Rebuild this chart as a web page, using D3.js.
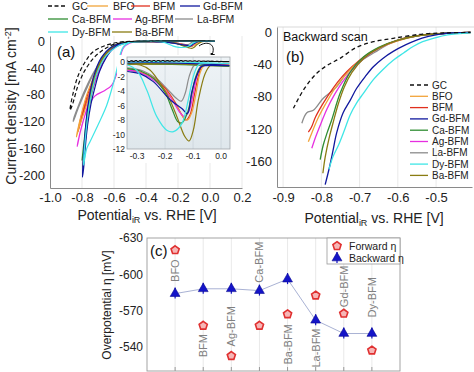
<!DOCTYPE html>
<html><head><meta charset="utf-8">
<script src="https://cdn.jsdelivr.net/npm/d3@7"></script>
<style>body{margin:0;background:#fff}svg{display:block;font-family:Arial,"Liberation Sans",sans-serif}</style>
</head><body><svg id="c" width="474" height="372"></svg>
<script>
// ---------------- DATA ----------------
const materials = ["GC","BFO","BFM","Gd-BFM","Ca-BFM","Ag-BFM","La-BFM","Dy-BFM","Ba-BFM"];

// (a) inset: reduction peak region, forward sweep [V, mA cm-2]
const insetGC  = [[0.03,0.05],[-0.335,0.05]];
const insetBFO = [[0.03,-0.5],[-0.06,-0.5],[-0.075,-1.5],[-0.09,-4.5],[-0.105,-7],[-0.12,-8],[-0.135,-7.6],[-0.16,-6],[-0.2,-3.8],[-0.25,-2],[-0.3,-1.2],[-0.335,-1.0]];
const insetBFM = [[0.03,-0.5],[-0.065,-0.5],[-0.08,-1.8],[-0.095,-4.5],[-0.11,-7.2],[-0.125,-8],[-0.14,-7.3],[-0.165,-5.5],[-0.2,-3.6],[-0.25,-2],[-0.3,-1.3],[-0.335,-1.1]];
const insetGd  = [[0.03,-0.5],[-0.06,-0.5],[-0.07,-0.6],[-0.088,-2.0],[-0.105,-4.2],[-0.12,-7.1],[-0.14,-6.4],[-0.182,-5.2],[-0.242,-2.7],[-0.29,-1.6],[-0.335,-1.3]];
const insetCa  = [[0.03,-0.6],[-0.07,-0.6],[-0.09,-2],[-0.105,-4.5],[-0.12,-7],[-0.14,-8.4],[-0.155,-8.2],[-0.175,-6.5],[-0.2,-4.2],[-0.24,-2.3],[-0.29,-1.2],[-0.335,-0.9]];
const insetAg  = [[0.03,-0.5],[-0.07,-0.5],[-0.085,-1.8],[-0.1,-4.5],[-0.115,-6.8],[-0.13,-7.5],[-0.15,-6.8],[-0.175,-5.2],[-0.21,-3.5],[-0.26,-2],[-0.3,-1.3],[-0.335,-1.1]];
const insetLa  = [[0.03,-0.4],[-0.09,-0.4],[-0.099,-0.6],[-0.114,-2.0],[-0.128,-4.3],[-0.142,-5.4],[-0.16,-5],[-0.19,-3.8],[-0.23,-2.3],[-0.28,-1.2],[-0.335,-0.8]];
const insetDy  = [[0.03,-0.2],[-0.06,-0.2],[-0.081,-0.4],[-0.099,-2.0],[-0.117,-5.2],[-0.14,-8.5],[-0.17,-9.6],[-0.194,-9.4],[-0.23,-7.5],[-0.265,-3.9],[-0.3,-1.2],[-0.335,-0.4]];
const insetBa  = [[0.03,-0.5],[-0.03,-0.5],[-0.039,-0.5],[-0.057,-1.6],[-0.081,-5.2],[-0.099,-9.4],[-0.114,-10.9],[-0.129,-10.3],[-0.158,-7.5],[-0.188,-4.8],[-0.218,-2.9],[-0.254,-1.1],[-0.289,-0.4],[-0.335,-0.3]];

// (a) HER loops: forward to the vertex, then back, then to start [V, mA cm-2]
const loopGC  = [[-0.4,-0.3],[-0.54,-1],[-0.646,-6],[-0.73,-16],[-0.78,-31],[-0.823,-51],[-0.854,-76],[-0.875,-103],[-0.86,-95],[-0.83,-70],[-0.8,-52],[-0.78,-43],[-0.73,-26],[-0.667,-13],[-0.6,-5],[-0.5,-1],[-0.4,0],[0.03,0.05]];
const loopBFO = [[-0.4,-0.8],[-0.52,-2.5],[-0.61,-12],[-0.68,-35],[-0.735,-68],[-0.785,-105],[-0.82,-130],[-0.835,-143],[-0.83,-136],[-0.805,-110],[-0.77,-80],[-0.73,-55],[-0.69,-33],[-0.64,-15],[-0.58,-5],[-0.5,-1.5],[-0.45,-0.6],[0.03,-0.5]];
const loopBFM = [[-0.4,-0.8],[-0.52,-2.5],[-0.61,-12],[-0.685,-38],[-0.74,-70],[-0.79,-105],[-0.825,-135],[-0.82,-128],[-0.8,-108],[-0.765,-80],[-0.725,-55],[-0.685,-33],[-0.635,-15],[-0.575,-5],[-0.5,-1.5],[-0.45,-0.6],[0.03,-0.5]];
const loopGd  = [[-0.4,-0.8],[-0.52,-2],[-0.61,-8],[-0.68,-25],[-0.73,-55],[-0.765,-100],[-0.785,-150],[-0.797,-203],[-0.79,-190],[-0.78,-160],[-0.765,-125],[-0.745,-95],[-0.72,-70],[-0.69,-45],[-0.65,-25],[-0.6,-10],[-0.54,-3],[-0.45,-0.6],[0.03,-0.5]];
const loopCa  = [[-0.4,-0.8],[-0.52,-2],[-0.61,-9],[-0.68,-30],[-0.73,-62],[-0.765,-105],[-0.785,-145],[-0.8,-178],[-0.795,-168],[-0.78,-135],[-0.76,-100],[-0.735,-68],[-0.705,-42],[-0.665,-22],[-0.61,-8],[-0.53,-2],[-0.45,-0.6],[0.03,-0.6]];
const loopAg  = [[-0.4,-0.8],[-0.52,-2.5],[-0.61,-12],[-0.68,-38],[-0.73,-70],[-0.775,-105],[-0.81,-135],[-0.83,-157],[-0.825,-150],[-0.8,-125],[-0.765,-100],[-0.72,-82],[-0.66,-74],[-0.615,-66],[-0.585,-50],[-0.565,-28],[-0.54,-10],[-0.5,-3],[-0.45,-0.6],[0.03,-0.5]];
const loopLa  = [[-0.4,-0.8],[-0.52,-2],[-0.61,-10],[-0.69,-32],[-0.76,-65],[-0.82,-98],[-0.855,-120],[-0.85,-114],[-0.82,-95],[-0.78,-72],[-0.735,-50],[-0.69,-32],[-0.64,-15],[-0.58,-5],[-0.5,-1.5],[-0.45,-0.6],[0.03,-0.4]];
const loopDy  = [[-0.4,-0.8],[-0.5,-2],[-0.58,-8],[-0.65,-22],[-0.71,-50],[-0.75,-90],[-0.775,-135],[-0.79,-185],[-0.785,-178],[-0.77,-160],[-0.75,-150],[-0.7,-125],[-0.646,-96],[-0.604,-63],[-0.58,-40],[-0.5625,-21],[-0.54,-8],[-0.5,-2],[-0.45,-0.5],[0.03,-0.2]];
const loopBa  = [[-0.4,-0.8],[-0.52,-2],[-0.61,-9],[-0.68,-28],[-0.73,-60],[-0.76,-100],[-0.78,-145],[-0.795,-188],[-0.79,-178],[-0.775,-140],[-0.755,-100],[-0.73,-68],[-0.7,-42],[-0.66,-22],[-0.6,-7],[-0.53,-2],[-0.45,-0.6],[0.03,-0.5]];

// (b) backward scans [V, mA cm-2]
const bwdGC  = [[-0.873,-94.5],[-0.847,-72],[-0.812,-51],[-0.78,-40],[-0.751,-32.6],[-0.708,-19],[-0.664,-12],[-0.612,-7.8],[-0.535,-2.5],[-0.47,-1],[-0.41,-0.5]];
const bwdLa  = [[-0.851,-113],[-0.838,-100],[-0.821,-97],[-0.795,-82],[-0.76,-68],[-0.734,-51],[-0.7,-37],[-0.66,-25],[-0.62,-14],[-0.577,-7],[-0.52,-3],[-0.41,-0.5]];
const bwdBFM = [[-0.834,-124],[-0.826,-118],[-0.815,-105],[-0.795,-88],[-0.77,-70],[-0.745,-55],[-0.72,-43],[-0.68,-28],[-0.638,-17],[-0.577,-7.5],[-0.52,-3],[-0.41,-0.5]];
const bwdBFO = [[-0.834,-136],[-0.825,-125],[-0.81,-108],[-0.79,-90],[-0.765,-70],[-0.74,-55],[-0.71,-40],[-0.68,-29],[-0.638,-17.5],[-0.577,-7.8],[-0.52,-3],[-0.41,-0.6]];
const bwdAg  = [[-0.825,-144],[-0.815,-130],[-0.8,-112],[-0.785,-95],[-0.765,-77],[-0.745,-62],[-0.72,-47],[-0.69,-33],[-0.65,-20],[-0.6,-10],[-0.54,-4],[-0.41,-0.6]];
const bwdCa  = [[-0.803,-158],[-0.795,-140],[-0.785,-125],[-0.773,-109],[-0.751,-76],[-0.725,-50],[-0.69,-31],[-0.65,-19],[-0.6,-10],[-0.54,-4],[-0.41,-0.6]];
const bwdBa  = [[-0.796,-175],[-0.79,-155],[-0.78,-132],[-0.768,-110],[-0.755,-88],[-0.74,-68],[-0.72,-50],[-0.69,-33],[-0.65,-20],[-0.6,-10],[-0.54,-4],[-0.41,-0.6]];
const bwdGd  = [[-0.79,-189],[-0.78,-170],[-0.77,-148],[-0.76,-125],[-0.743,-100],[-0.725,-85],[-0.708,-70],[-0.685,-55],[-0.664,-43],[-0.64,-33],[-0.612,-24],[-0.58,-16],[-0.551,-10],[-0.52,-5.5],[-0.49,-2.5],[-0.44,-0.8],[-0.41,-0.4]];
const bwdDy  = [[-0.78,-170],[-0.77,-155],[-0.755,-140],[-0.74,-122],[-0.725,-103],[-0.708,-88],[-0.69,-76],[-0.664,-59],[-0.64,-47],[-0.612,-35],[-0.585,-26],[-0.56,-18],[-0.535,-12],[-0.507,-7.8],[-0.47,-3.5],[-0.41,-1]];

// (c) overpotentials [mV]
const catsC = ["BFO","BFM","Ag-BFM","Ca-BFM","Ba-BFM","La-BFM","Gd-BFM","Dy-BFM"];
const forwardEta  = [-620,-557.5,-532.5,-557.5,-567,-582.5,-567.5,-537];
const backwardEta = [-584,-588,-588,-586.5,-596,-562,-551,-551];
const labelEta    = [-603,-541,-557,-610,-542,-539,-590,-581];

// ticks
const aXTicks = [-1.0,-0.8,-0.6,-0.4,-0.2,0.0,0.2];
const aYTicks = [0,-40,-80,-120,-160,-200];
const iXTicks = [-0.3,-0.2,-0.1,0.0];
const iYTicks = [0,-2,-4,-6,-8,-10,-12];
const bXTicks = [-0.9,-0.8,-0.7,-0.6,-0.5];
const bYTicks = [0,-40,-80,-120,-160];
const cYTicks = [-630,-600,-570,-540];

// ---------------- STYLE ----------------
const color = {"GC":"#111","BFO":"#f2a43a","BFM":"#e0301e","Gd-BFM":"#10189e","Ca-BFM":"#2f8d32","Ag-BFM":"#e62fe0","La-BFM":"#8c8c8c","Dy-BFM":"#3fe6e6","Ba-BFM":"#8a7c12"};
const insetData = {"GC":insetGC,"BFO":insetBFO,"BFM":insetBFM,"Gd-BFM":insetGd,"Ca-BFM":insetCa,"Ag-BFM":insetAg,"La-BFM":insetLa,"Dy-BFM":insetDy,"Ba-BFM":insetBa};
const loopData = {"GC":loopGC,"BFO":loopBFO,"BFM":loopBFM,"Gd-BFM":loopGd,"Ca-BFM":loopCa,"Ag-BFM":loopAg,"La-BFM":loopLa,"Dy-BFM":loopDy,"Ba-BFM":loopBa};
const bwdData = {"GC":bwdGC,"BFO":bwdBFO,"BFM":bwdBFM,"Gd-BFM":bwdGd,"Ca-BFM":bwdCa,"Ag-BFM":bwdAg,"La-BFM":bwdLa,"Dy-BFM":bwdDy,"Ba-BFM":bwdBa};
const drawOrder = ["La-BFM","BFM","BFO","Ag-BFM","Ca-BFM","Ba-BFM","Gd-BFM","Dy-BFM","GC"];

const svg = d3.select("#c");
const defs = svg.append("defs");
const mkLine = (x,y)=>d3.line().x(d=>x(d[0])).y(d=>y(d[1])).curve(d3.curveCatmullRom.alpha(0.5));
const gridC = "#e3e3e3", axC = "#8a8a8a";

function clip(id,x,y,w,h){defs.append("clipPath").attr("id",id).append("rect").attr("x",x).attr("y",y).attr("width",w).attr("height",h);}

// ---------------- PANEL A ----------------
const ax = d3.scaleLinear().domain([-1.0,0.2]).range([50,242]);
const ay = d3.scaleLinear().domain([-219,7.5]).range([188,36]);
clip("clipA",50,36,192,152);
const gA = svg.append("g");
gA.append("g").selectAll("line").data(aXTicks.slice(1)).join("line")
  .attr("x1",d=>ax(d)).attr("x2",d=>ax(d)).attr("y1",36).attr("y2",188).attr("stroke",gridC).attr("stroke-width",0.8);
const lineA = mkLine(ax,ay);
const gAc = gA.append("g").attr("clip-path","url(#clipA)");
drawOrder.forEach(m=>{
  gAc.append("path").attr("d",lineA(insetData[m].concat(loopData[m]))).attr("fill","none")
    .attr("stroke",color[m]).attr("stroke-width",1.2).attr("stroke-dasharray",m==="GC"?"4,2.5":null);
});
gA.append("g").attr("transform","translate(0,188)")
  .call(d3.axisBottom(ax).tickValues(aXTicks).tickFormat(d=>d.toFixed(1)).tickSize(0).tickPadding(5))
  .call(g=>{g.select(".domain").attr("stroke",axC);g.selectAll("text").attr("font-size",13).attr("fill","#222").attr("font-family","Arial, Liberation Sans");});
gA.append("g").attr("transform","translate(50,0)")
  .call(d3.axisLeft(ay).tickValues(aYTicks).tickFormat(d=>String(d)).tickSize(0).tickPadding(5))
  .call(g=>{g.select(".domain").attr("stroke",axC);g.selectAll("text").attr("font-size",13).attr("fill","#222").attr("font-family","Arial, Liberation Sans");});
gA.append("text").attr("x",57).attr("y",57).attr("font-size",15).attr("fill","#111").text("(a)");

// arrow
defs.append("marker").attr("id","arr").attr("viewBox","0 0 10 10").attr("refX",8).attr("refY",5)
  .attr("markerWidth",5).attr("markerHeight",5).attr("orient","auto")
  .append("path").attr("d","M0,0L10,5L0,10z").attr("fill","#111");
gA.append("path").attr("d","M199,46 C207,40 218,44 211,57").attr("fill","none").attr("stroke","#111").attr("stroke-width",1).attr("marker-end","url(#arr)");

// inset
const ix = d3.scaleLinear().domain([-0.336,0.032]).range([127,230]);
const iy = d3.scaleLinear().domain([-12,0.7]).range([149,57]);
gA.append("rect").attr("x",117).attr("y",55).attr("width",116).attr("height",108).attr("fill","#fff");
const grad = defs.append("linearGradient").attr("id","ig").attr("x1",0).attr("y1",0).attr("x2",0).attr("y2",1);
grad.append("stop").attr("offset","0").attr("stop-color","#eef3f6");
grad.append("stop").attr("offset","1").attr("stop-color","#dfe7ec");
gA.append("rect").attr("x",127).attr("y",57).attr("width",103).attr("height",92).attr("fill","url(#ig)");
gA.append("g").selectAll("line").data(iXTicks.slice(1)).join("line")
  .attr("x1",d=>ix(d)).attr("x2",d=>ix(d)).attr("y1",57).attr("y2",149).attr("stroke","#c9d2d8").attr("stroke-width",0.7);
clip("clipI",127,57,103,92);
const lineI = mkLine(ix,iy);
const gIc = gA.append("g").attr("clip-path","url(#clipI)");
drawOrder.forEach(m=>{
  gIc.append("path").attr("d",lineI(insetData[m].concat(loopData[m]))).attr("fill","none")
    .attr("stroke",color[m]).attr("stroke-width",1.2).attr("stroke-dasharray",m==="GC"?"2.5,2":null);
});
gA.append("rect").attr("x",127).attr("y",57).attr("width",103).attr("height",92).attr("fill","none").attr("stroke","#a0a6aa").attr("stroke-width",0.8);
gA.append("g").selectAll("text").data(iYTicks).join("text")
  .attr("x",125).attr("y",d=>iy(d)+3).attr("text-anchor","end").attr("font-size",8.5).attr("fill","#222").text(d=>String(d));
gA.append("g").selectAll("text").data(iXTicks).join("text")
  .attr("x",d=>ix(d)).attr("y",159).attr("text-anchor","middle").attr("font-size",8.5).attr("fill","#222").text(d=>d.toFixed(1));

// legend a
const legA = [["GC",48,67,72,6],["BFO",87,108,113,6],["BFM",131,150,153,6],["Gd-BFM",180,200,203,6],
              ["Ca-BFM",48,68,72,19],["Ag-BFM",113,132,135,19],["La-BFM",175,193,197,19],
              ["Dy-BFM",48,68,72,32],["Ba-BFM",112,132,135,32]];
const gL = svg.append("g");
legA.forEach(([m,x1,x2,tx,y])=>{
  gL.append("line").attr("x1",x1).attr("x2",x2).attr("y1",y).attr("y2",y).attr("stroke",color[m]).attr("stroke-width",1.3).attr("stroke-dasharray",m==="GC"?"4,2.5":null);
  gL.append("text").attr("x",tx).attr("y",y+4).attr("font-size",10.5).attr("fill","#222").text(m);
});

// axis titles a
const tA = svg.append("text").attr("x",147).attr("y",220).attr("text-anchor","middle").attr("font-size",14).attr("fill","#222");
tA.append("tspan").text("Potential");
tA.append("tspan").attr("font-size",9).attr("dy",3).text("iR");
tA.append("tspan").attr("dy",-3).text(" vs. RHE [V]");
const yA = svg.append("text").attr("transform","translate(16,106) rotate(-90)").attr("text-anchor","middle").attr("font-size",14).attr("fill","#222");
yA.append("tspan").text("Current density [mA cm");
yA.append("tspan").attr("font-size",9).attr("dy",-5).text("-2");
yA.append("tspan").attr("dy",5).text("]");

// ---------------- PANEL B ----------------
const bx = d3.scaleLinear().domain([-0.916,-0.406]).range([277,472]);
const by = d3.scaleLinear().domain([-192,6.2]).range([187,27]);
const gB = svg.append("g");
gB.append("g").selectAll("line").data(bXTicks).join("line")
  .attr("x1",d=>bx(d)).attr("x2",d=>bx(d)).attr("y1",27).attr("y2",187).attr("stroke",gridC).attr("stroke-width",0.8);
gB.append("line").attr("x1",277).attr("x2",474).attr("y1",27).attr("y2",27).attr("stroke","#cfcfcf").attr("stroke-width",0.8);
clip("clipB",277,27,197,160);
const lineB = mkLine(bx,by);
const gBc = gB.append("g").attr("clip-path","url(#clipB)");
drawOrder.forEach(m=>{
  gBc.append("path").attr("d",lineB(bwdData[m])).attr("fill","none")
    .attr("stroke",color[m]).attr("stroke-width",1.3).attr("stroke-dasharray",m==="GC"?"4,3":null);
});
gB.append("g").attr("transform","translate(0,187)")
  .call(d3.axisBottom(bx).tickValues(bXTicks).tickFormat(d=>d.toFixed(1)).tickSize(0).tickPadding(6))
  .call(g=>{g.select(".domain").attr("stroke",axC);g.selectAll("text").attr("font-size",13).attr("fill","#222").attr("font-family","Arial, Liberation Sans");});
gB.append("g").attr("transform","translate(277,0)")
  .call(d3.axisLeft(by).tickValues(bYTicks).tickFormat(d=>String(d)).tickSize(0).tickPadding(5))
  .call(g=>{g.select(".domain").attr("stroke",axC);g.selectAll("text").attr("font-size",13).attr("fill","#222").attr("font-family","Arial, Liberation Sans");});
gB.append("text").attr("x",283).attr("y",41).attr("font-size",12.5).attr("fill","#111").text("Backward scan");
gB.append("text").attr("x",286).attr("y",62).attr("font-size",15).attr("fill","#111").text("(b)");
materials.forEach((m,i)=>{
  const y = 85 + i*11.3;
  gB.append("line").attr("x1",410).attr("x2",428).attr("y1",y).attr("y2",y).attr("stroke",color[m]).attr("stroke-width",1.3).attr("stroke-dasharray",m==="GC"?"4,3":null);
  gB.append("text").attr("x",432).attr("y",y+3.5).attr("font-size",10).attr("fill","#222").text(m);
});
const tB = svg.append("text").attr("x",374).attr("y",223).attr("text-anchor","middle").attr("font-size",14).attr("fill","#222");
tB.append("tspan").text("Potential");
tB.append("tspan").attr("font-size",9).attr("dy",3).text("iR");
tB.append("tspan").attr("dy",-3).text(" vs. RHE [V]");

// ---------------- PANEL C ----------------
const cx = d3.scaleLinear().domain([-1,8]).range([147,400]);
const cy = d3.scaleLinear().domain([-630,-520]).range([238,371]);
const gC = svg.append("g");
gC.append("g").selectAll("line").data(catsC).join("line")
  .attr("x1",(d,i)=>cx(i)).attr("x2",(d,i)=>cx(i)).attr("y1",238).attr("y2",371).attr("stroke",gridC).attr("stroke-width",0.8);
gC.append("rect").attr("x",147).attr("y",238).attr("width",253).attr("height",133).attr("fill","none").attr("stroke","#9a9a9a").attr("stroke-width",0.9);
gC.append("g").selectAll("line").data(catsC).join("line")
  .attr("x1",(d,i)=>cx(i)).attr("x2",(d,i)=>cx(i)).attr("y1",367).attr("y2",371).attr("stroke","#9a9a9a");
gC.append("g").attr("transform","translate(147,0)")
  .call(d3.axisLeft(cy).tickValues(cYTicks).tickFormat(d=>String(d)).tickSize(0).tickPadding(4))
  .call(g=>{g.select(".domain").remove();g.selectAll("text").attr("font-size",12).attr("fill","#222").attr("font-family","Arial, Liberation Sans");});
gC.append("text").attr("transform","translate(111,305) rotate(-90)").attr("text-anchor","middle").attr("font-size",12).attr("fill","#222").text("Overpotential η [mV]");
gC.append("text").attr("x",150).attr("y",256).attr("font-size",15).attr("fill","#111").text("(c)");
// labels
gC.append("g").selectAll("text").data(catsC).join("text")
  .attr("transform",(d,i)=>`translate(${cx(i)+4},${cy(labelEta[i])}) rotate(-90)`)
  .attr("text-anchor","middle").attr("font-size",11).attr("fill","#808080").text(d=>d);
// backward line
gC.append("path").attr("d",d3.line().x((d,i)=>cx(i)).y(d=>cy(d))(backwardEta)).attr("fill","none").attr("stroke","#a9b2d4").attr("stroke-width",1);
function pent(r){const p=[];for(let k=0;k<5;k++){const a=-Math.PI/2+k*2*Math.PI/5;p.push([r*Math.cos(a),r*Math.sin(a)]);}return "M"+p.map(q=>q.join(",")).join("L")+"Z";}
function drawFwd(g,x,y){g.append("path").attr("d",pent(4.3)).attr("transform",`translate(${x},${y})`).attr("fill","#f6b6b6").attr("stroke","#e03030").attr("stroke-width",1.6);}
function drawBwd(g,x,y){
  g.append("line").attr("x1",x).attr("x2",x).attr("y1",y-6).attr("y2",y+5).attr("stroke","#1414c8").attr("stroke-width",1.2);
  g.append("path").attr("d",d3.symbol(d3.symbolTriangle).size(42)()).attr("transform",`translate(${x},${y})`).attr("fill","#1414c8").attr("stroke","#0a0a90").attr("stroke-width",0.6);
}
forwardEta.forEach((v,i)=>drawFwd(gC,cx(i),cy(v)));
backwardEta.forEach((v,i)=>drawBwd(gC,cx(i),cy(v)));
// legend c
gC.append("rect").attr("x",327).attr("y",238).attr("width",73).attr("height",26).attr("fill","#fff").attr("stroke","#9a9a9a").attr("stroke-width",0.8);
drawFwd(gC,337,246);
drawBwd(gC,337,258);
gC.append("text").attr("x",349).attr("y",250).attr("font-size",10.5).attr("fill","#222").text("Forward η");
gC.append("text").attr("x",349).attr("y",262).attr("font-size",10.5).attr("fill","#222").text("Backward η");
</script></body></html>
